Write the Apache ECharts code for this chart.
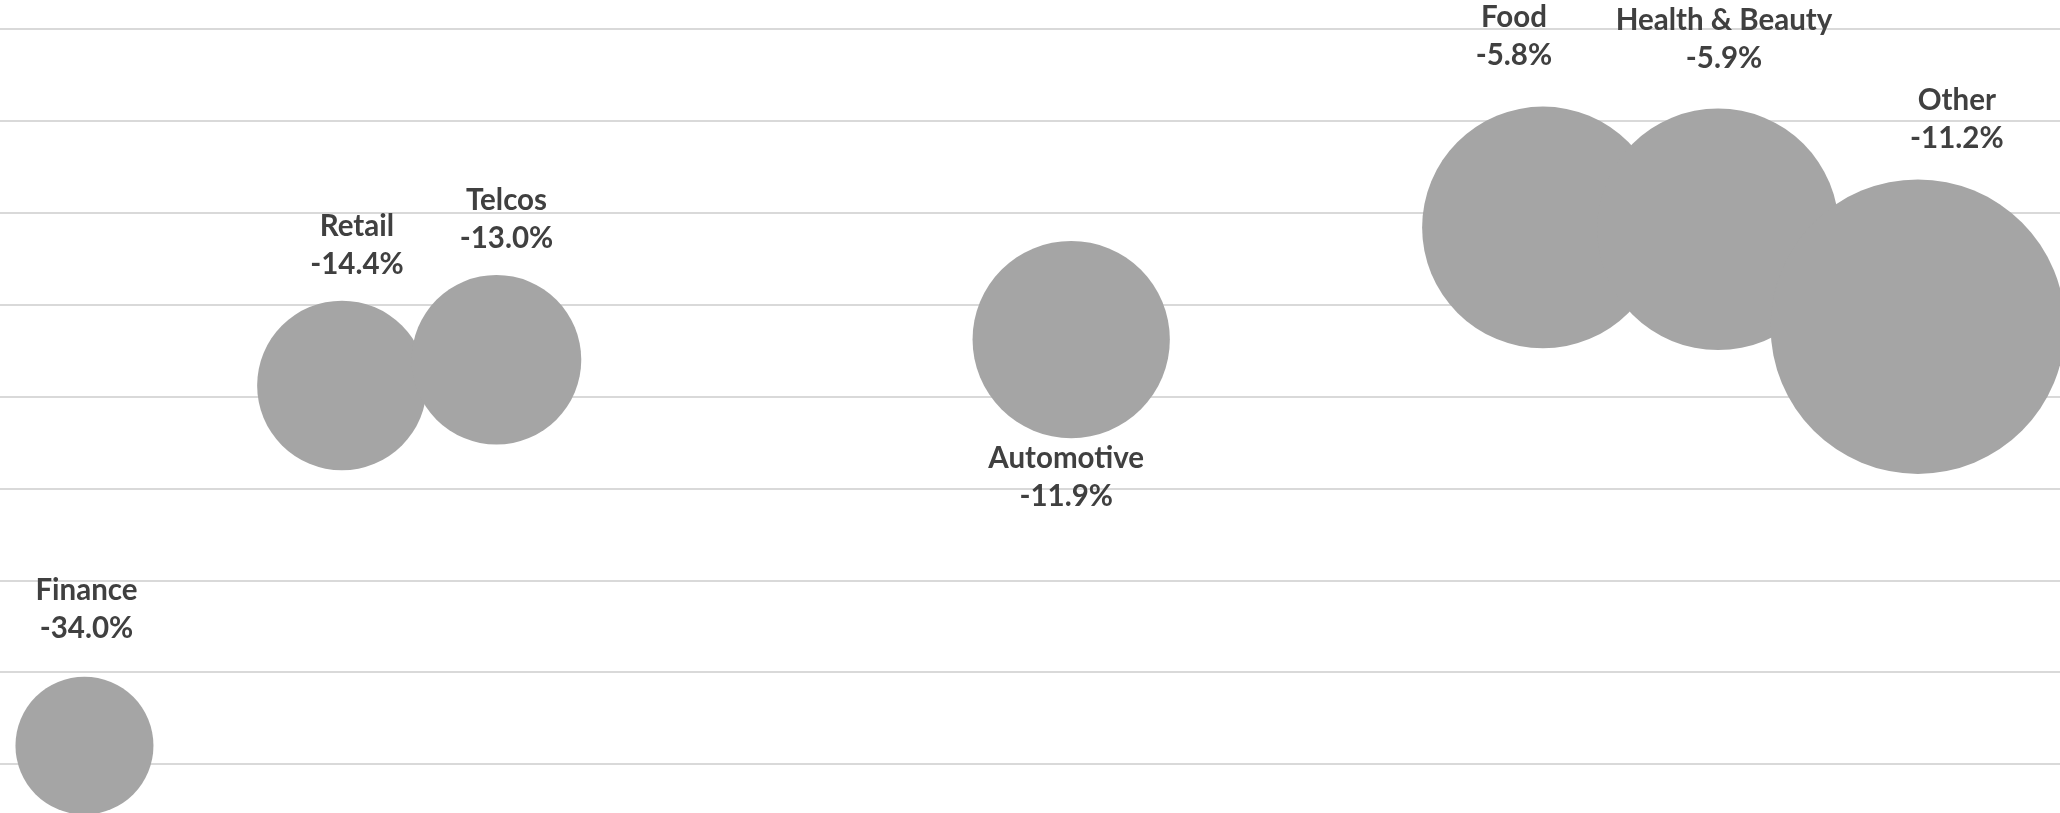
<!DOCTYPE html>
<html>
<head>
    <meta charset="utf-8">
    <title>ECharts</title>
    <script src="https://cdn.jsdelivr.net/npm/echarts@6/dist/echarts.min.js"></script>
    <style>
        html, body { margin: 0; padding: 0; background: #fff; }
    </style>
</head>
<body>
    <div id="main" style="width: 2060px;height:813px;"></div>
    <script type="text/javascript">

    // 数据
    var sectors = ['Finance', 'Retail', 'Telcos', 'Automotive', 'Food', 'Health & Beauty', 'Other'];
    var change  = [-34.0, -14.4, -13.0, -11.9, -5.8, -5.9, -11.2];   // y: % change
    var xPos    = [4.1, 16.6, 24.1, 52.0, 74.9, 83.4, 93.1];         // x position
    var weight  = [4.5, 6.8, 6.8, 9.2, 13.8, 13.8, 20.5];            // bubble size value
    var yTicks  = [-35, -30, -25, -20, -15, -10, -5, 0, 5];

    // label placement (offset from bubble centre), hand placed like the original
    var labelOffset = {
        'Finance':         [2, -136],
        'Retail':          [15, -140],
        'Telcos':          [10, -140],
        'Automotive':      [-5, 138],
        'Food':            [-29, -191],
        'Health & Beauty': [6, -190],
        'Other':           [39, -207]
    };

    var points = [];
    for (var i = 0; i < sectors.length; i++) {
        points.push({
            name: sectors[i],
            value: [xPos[i], change[i], weight[i]],
            label: { offset: labelOffset[sectors[i]] }
        });
    }

    var myChart = echarts.init(document.getElementById('main'));

    var option = {
        animation: false,
        backgroundColor: '#ffffff',
        grid: { left: 0, right: 0, top: 29, bottom: 49 },
        xAxis: {
            type: 'value',
            min: 0,
            max: 100,
            axisLine: { show: false },
            axisTick: { show: false },
            axisLabel: { show: false },
            splitLine: { show: false }
        },
        yAxis: {
            type: 'value',
            min: yTicks[0],
            max: yTicks[yTicks.length - 1],
            interval: 5,
            axisLine: { show: false },
            axisTick: { show: false },
            axisLabel: { show: false },
            splitLine: { show: true, lineStyle: { color: '#d9d9d9', width: 2 } }
        },
        series: [{
            type: 'scatter',
            data: points,
            symbolSize: function (val) {
                return 65.05 * Math.sqrt(val[2]);
            },
            itemStyle: { color: '#a5a5a5', opacity: 1 },
            label: {
                show: true,
                position: 'inside',
                fontFamily: 'Lato',
                fontWeight: 'bold',
                fontSize: 29.5,
                lineHeight: 38,
                color: '#404040',
                align: 'center',
                formatter: function (p) {
                    return p.name + '\n' + p.value[1].toFixed(1) + '%';
                }
            },
            emphasis: { disabled: true }
        }]
    };

    myChart.setOption(option);
    </script>
</body>
</html>
